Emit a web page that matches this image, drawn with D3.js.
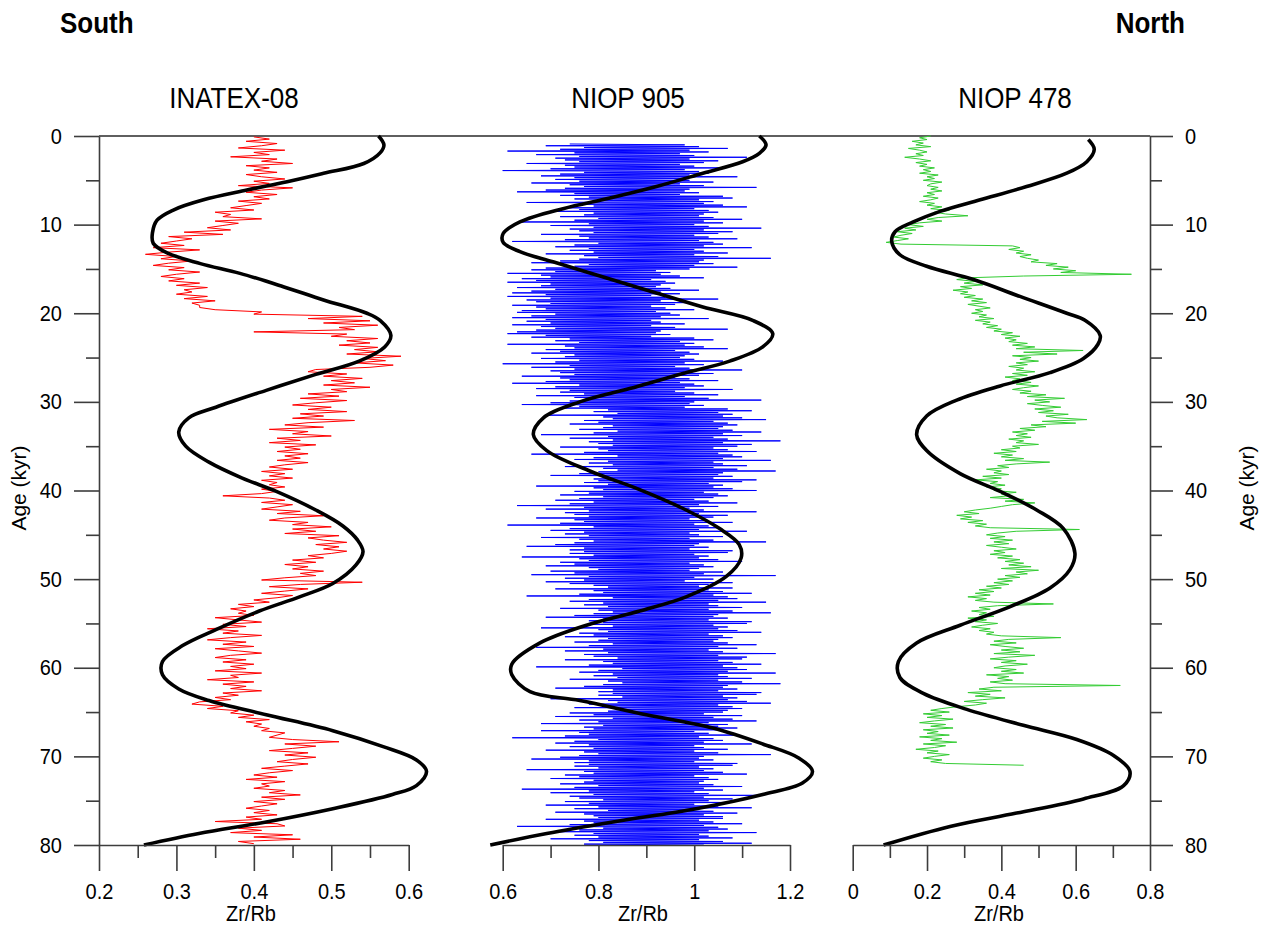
<!DOCTYPE html>
<html>
<head>
<meta charset="utf-8">
<script src="https://cdn.jsdelivr.net/npm/d3@7"></script>
<style>
  body { margin: 0; background: #fff; }
  svg { display: block; }
  text { font-family: "Liberation Sans", Arial, Helvetica, sans-serif; fill: #000; }
  .tall { transform-box: fill-box; transform-origin: center; transform: scaleY(1.1); }
</style>
</head>
<body>
<svg id="chart" width="1265" height="926"></svg>
<script>
// ---- Age axis ----
const ageTicks = [0, 10, 20, 30, 40, 50, 60, 70, 80];
const ageMinorTicks = [5, 15, 25, 35, 45, 55, 65, 75];

// ---- Zr/Rb axis ticks per core ----
const inatexTicks = [0.2, 0.3, 0.4, 0.5, 0.6];
const inatexMinorTicks = [0.25, 0.35, 0.45, 0.55];
const niop905Ticks = [0.6, 0.8, 1, 1.2];
const niop905MinorTicks = [0.7, 0.9, 1.1];
const niop478Ticks = [0, 0.2, 0.4, 0.6, 0.8];
const niop478MinorTicks = [0.1, 0.3, 0.5, 0.7];

const coreNames = ["INATEX-08", "NIOP 905", "NIOP 478"];

// ---- INATEX-08 Zr/Rb record (0.25 kyr sampling from 0.1 kyr) ----
const inatexAge0 = 0.1, inatexDt = 0.25;
const inatexZrRb = [
  0.40, 0.42, 0.39, 0.43, 0.41, 0.38, 0.44, 0.40, 0.42, 0.37, 0.43, 0.41, 0.45, 0.39, 0.42, 0.40,
  0.43, 0.39, 0.41, 0.44, 0.40, 0.42, 0.38, 0.45, 0.41, 0.39, 0.43, 0.40, 0.42, 0.38, 0.41, 0.39,
  0.37, 0.40, 0.35, 0.37, 0.36, 0.41, 0.35, 0.38, 0.36, 0.34, 0.37, 0.31, 0.36, 0.29, 0.32, 0.30,
  0.28, 0.31, 0.27, 0.33, 0.29, 0.26, 0.30, 0.28, 0.32, 0.29, 0.27, 0.31, 0.29, 0.33, 0.30, 0.28,
  0.31, 0.29, 0.33, 0.30, 0.34, 0.31, 0.32, 0.30, 0.34, 0.31, 0.35, 0.32, 0.33, 0.33, 0.35, 0.41,
  0.40, 0.54, 0.47, 0.55, 0.49, 0.56, 0.51, 0.53, 0.40, 0.52, 0.50, 0.56, 0.52, 0.55, 0.51, 0.56,
  0.53, 0.56, 0.52, 0.59, 0.54, 0.57, 0.53, 0.58, 0.55, 0.48, 0.47, 0.52, 0.49, 0.54, 0.50, 0.53,
  0.49, 0.55, 0.50, 0.52, 0.47, 0.51, 0.46, 0.52, 0.48, 0.45, 0.50, 0.47, 0.52, 0.46, 0.49, 0.45,
  0.53, 0.47, 0.44, 0.49, 0.42, 0.47, 0.45, 0.50, 0.43, 0.46, 0.42, 0.48, 0.44, 0.46, 0.43, 0.47,
  0.44, 0.46, 0.43, 0.47, 0.44, 0.42, 0.45, 0.41, 0.44, 0.42, 0.45, 0.41, 0.43, 0.42, 0.44, 0.41,
  0.43, 0.41, 0.36, 0.42, 0.44, 0.41, 0.45, 0.43, 0.41, 0.46, 0.43, 0.49, 0.44, 0.42, 0.47, 0.45,
  0.50, 0.45, 0.48, 0.44, 0.51, 0.47, 0.49, 0.52, 0.48, 0.51, 0.49, 0.52, 0.50, 0.47, 0.49, 0.45,
  0.48, 0.44, 0.47, 0.45, 0.49, 0.46, 0.48, 0.44, 0.41, 0.54, 0.46, 0.42, 0.47, 0.44, 0.41, 0.45,
  0.43, 0.40, 0.42, 0.38, 0.40, 0.37, 0.39, 0.38, 0.40, 0.35, 0.38, 0.41, 0.36, 0.39, 0.34, 0.38,
  0.36, 0.41, 0.37, 0.34, 0.39, 0.36, 0.40, 0.35, 0.38, 0.41, 0.37, 0.35, 0.39, 0.36, 0.40, 0.37,
  0.39, 0.35, 0.41, 0.37, 0.38, 0.34, 0.40, 0.36, 0.39, 0.37, 0.41, 0.36, 0.38, 0.35, 0.37, 0.33,
  0.32, 0.36, 0.34, 0.38, 0.37, 0.40, 0.38, 0.42, 0.39, 0.41, 0.40, 0.42, 0.41, 0.44, 0.43, 0.42,
  0.45, 0.51, 0.44, 0.48, 0.45, 0.42, 0.47, 0.44, 0.48, 0.45, 0.43, 0.47, 0.44, 0.41, 0.45, 0.42,
  0.40, 0.43, 0.39, 0.44, 0.41, 0.42, 0.40, 0.44, 0.42, 0.46, 0.41, 0.44, 0.40, 0.43, 0.41, 0.39,
  0.42, 0.40, 0.43, 0.39, 0.41, 0.35, 0.43, 0.44, 0.38, 0.41, 0.37, 0.45, 0.40, 0.46, 0.38, 0.40
];

// ---- NIOP 905 Zr/Rb record (0.1 kyr sampling from 0.9 kyr) ----
const niop905Age0 = 0.9, niop905Dt = 0.1;
const niop905ZrRb = [
  0.74, 0.98, 0.69, 1.01, 0.77, 1.07, 0.72, 0.99, 0.61, 1.03, 0.75, 0.97, 0.67, 1.00, 0.76, 1.11, 0.71, 0.99, 0.73, 1.05,
  0.76, 1.02, 0.65, 0.97, 0.73, 1.00, 0.75, 1.06, 0.70, 0.98, 0.60, 1.01, 0.77, 1.03, 0.72, 0.99, 0.68, 1.09, 0.75, 0.97,
  0.71, 0.99, 0.76, 1.04, 0.66, 0.97, 0.74, 1.02, 0.77, 1.13, 0.73, 0.99, 0.69, 0.98, 0.63, 1.01, 0.75, 0.97, 0.72, 1.06,
  0.78, 1.08, 0.75, 1.01, 0.80, 1.04, 0.65, 1.02, 0.77, 1.06, 0.79, 1.11, 0.73, 1.00, 0.76, 1.03, 0.70, 1.05, 0.79, 1.02,
  0.77, 1.01, 0.72, 1.04, 0.80, 1.10, 0.75, 1.02, 0.64, 1.06, 0.78, 1.00, 0.70, 1.03, 0.79, 1.14, 0.74, 1.02, 0.76, 1.08,
  0.79, 1.05, 0.68, 1.00, 0.76, 1.03, 0.78, 1.09, 0.73, 1.01, 0.62, 1.04, 0.80, 1.06, 0.75, 1.02, 0.71, 1.12, 0.78, 1.00,
  0.74, 1.02, 0.79, 1.07, 0.69, 1.00, 0.77, 1.05, 0.80, 1.16, 0.76, 1.02, 0.72, 1.01, 0.66, 1.04, 0.78, 1.00, 0.75, 1.09,
  0.69, 0.99, 0.66, 0.92, 0.71, 0.95, 0.61, 0.93, 0.68, 0.97, 0.70, 1.02, 0.64, 0.91, 0.67, 0.94, 0.61, 0.96, 0.70, 0.93,
  0.68, 0.92, 0.63, 0.95, 0.71, 1.01, 0.66, 0.93, 0.62, 0.97, 0.69, 0.91, 0.61, 0.94, 0.70, 1.05, 0.65, 0.93, 0.67, 0.99,
  0.70, 0.96, 0.62, 0.91, 0.67, 0.94, 0.69, 1.00, 0.64, 0.92, 0.63, 0.95, 0.71, 0.97, 0.66, 0.93, 0.62, 1.03, 0.69, 0.91,
  0.65, 0.93, 0.70, 0.98, 0.62, 0.91, 0.68, 0.96, 0.71, 1.07, 0.67, 0.93, 0.63, 0.92, 0.61, 0.95, 0.69, 0.91, 0.66, 1.00,
  0.74, 1.04, 0.71, 0.97, 0.76, 1.00, 0.61, 0.98, 0.73, 1.02, 0.75, 1.07, 0.69, 0.96, 0.72, 0.99, 0.66, 1.01, 0.75, 0.98,
  0.73, 0.97, 0.68, 1.00, 0.76, 1.06, 0.71, 0.98, 0.60, 1.02, 0.74, 0.96, 0.66, 0.99, 0.75, 1.10, 0.70, 0.98, 0.72, 1.04,
  0.75, 1.01, 0.64, 0.96, 0.72, 0.99, 0.74, 1.05, 0.69, 0.97, 0.62, 1.00, 0.76, 1.02, 0.71, 0.98, 0.67, 1.08, 0.74, 0.96,
  0.72, 1.00, 0.77, 1.05, 0.67, 0.98, 0.75, 1.03, 0.78, 1.14, 0.74, 1.00, 0.70, 0.99, 0.64, 1.02, 0.76, 0.98, 0.73, 1.07,
  0.82, 1.12, 0.79, 1.05, 0.84, 1.08, 0.69, 1.06, 0.81, 1.10, 0.83, 1.15, 0.77, 1.04, 0.80, 1.07, 0.74, 1.09, 0.83, 1.06,
  0.81, 1.05, 0.76, 1.08, 0.84, 1.14, 0.79, 1.06, 0.68, 1.10, 0.82, 1.04, 0.74, 1.07, 0.83, 1.18, 0.78, 1.06, 0.80, 1.12,
  0.83, 1.09, 0.72, 1.04, 0.80, 1.07, 0.82, 1.13, 0.77, 1.05, 0.66, 1.08, 0.84, 1.10, 0.79, 1.06, 0.75, 1.16, 0.82, 1.04,
  0.78, 1.06, 0.83, 1.11, 0.73, 1.04, 0.81, 1.09, 0.84, 1.17, 0.80, 1.06, 0.76, 1.05, 0.70, 1.08, 0.82, 1.04, 0.79, 1.13,
  0.80, 1.10, 0.77, 1.03, 0.82, 1.06, 0.67, 1.04, 0.79, 1.08, 0.81, 1.13, 0.75, 1.02, 0.78, 1.05, 0.72, 1.07, 0.81, 1.04,
  0.76, 1.00, 0.71, 1.03, 0.79, 1.09, 0.74, 1.01, 0.63, 1.05, 0.77, 0.99, 0.69, 1.02, 0.78, 1.13, 0.73, 1.01, 0.75, 1.07,
  0.78, 1.04, 0.67, 0.99, 0.75, 1.02, 0.77, 1.08, 0.72, 1.00, 0.61, 1.03, 0.79, 1.05, 0.74, 1.01, 0.70, 1.11, 0.77, 0.99,
  0.73, 1.01, 0.78, 1.06, 0.68, 0.99, 0.76, 1.04, 0.79, 1.15, 0.75, 1.01, 0.71, 1.00, 0.65, 1.03, 0.77, 0.99, 0.74, 1.08,
  0.77, 1.07, 0.74, 1.00, 0.79, 1.03, 0.64, 1.01, 0.76, 1.05, 0.78, 1.10, 0.72, 0.99, 0.75, 1.02, 0.69, 1.04, 0.78, 1.01,
  0.80, 0.99, 0.70, 1.06, 0.75, 1.02, 0.66, 1.17, 0.78, 1.00, 0.73, 1.04, 0.77, 0.98, 0.69, 1.08, 0.74, 1.03, 0.79, 1.01,
  0.82, 1.08, 0.71, 1.03, 0.79, 1.06, 0.81, 1.12, 0.76, 1.04, 0.65, 1.07, 0.83, 1.09, 0.78, 1.05, 0.74, 1.15, 0.81, 1.03,
  0.77, 1.05, 0.82, 1.10, 0.72, 1.03, 0.80, 1.08, 0.83, 1.16, 0.79, 1.05, 0.75, 1.04, 0.69, 1.07, 0.81, 1.03, 0.78, 1.12,
  0.81, 1.11, 0.78, 1.04, 0.83, 1.07, 0.68, 1.05, 0.80, 1.09, 0.82, 1.14, 0.76, 1.03, 0.79, 1.06, 0.73, 1.08, 0.82, 1.05,
  0.80, 1.04, 0.75, 1.07, 0.83, 1.13, 0.78, 1.05, 0.67, 1.09, 0.81, 1.03, 0.73, 1.06, 0.82, 1.17, 0.77, 1.05, 0.79, 1.11,
  0.84, 1.10, 0.73, 1.05, 0.81, 1.08, 0.83, 1.14, 0.78, 1.06, 0.67, 1.09, 0.85, 1.11, 0.80, 1.07, 0.76, 1.17, 0.83, 1.05,
  0.79, 1.07, 0.84, 1.12, 0.74, 1.05, 0.82, 1.10, 0.85, 1.18, 0.81, 1.07, 0.77, 1.06, 0.71, 1.09, 0.83, 1.05, 0.80, 1.14,
  0.83, 1.13, 0.80, 1.06, 0.85, 1.09, 0.70, 1.07, 0.82, 1.11, 0.84, 1.16, 0.78, 1.05, 0.81, 1.08, 0.75, 1.10, 0.84, 1.07,
  0.82, 1.06, 0.74, 1.02, 0.79, 1.10, 0.71, 1.04, 0.83, 1.08, 0.76, 1.13, 0.80, 1.03, 0.68, 1.07, 0.81, 1.05, 0.77, 1.09,
  0.79, 1.05, 0.68, 1.00, 0.76, 1.03, 0.78, 1.09, 0.73, 1.01, 0.62, 1.04, 0.80, 1.06, 0.75, 1.02, 0.71, 1.12, 0.78, 1.00,
  0.74, 1.02, 0.79, 1.07, 0.69, 1.00, 0.77, 1.05, 0.80, 1.16, 0.76, 1.02, 0.72, 1.01, 0.66, 1.04, 0.78, 1.00, 0.75, 1.09,
  0.78, 1.08, 0.75, 1.01, 0.80, 1.04, 0.65, 1.02, 0.77, 1.06, 0.79, 1.11, 0.73, 1.00, 0.76, 1.03, 0.70, 1.05, 0.79, 1.02,
  0.77, 1.01, 0.72, 1.04, 0.80, 1.10, 0.75, 1.02, 0.64, 1.06, 0.78, 1.00, 0.70, 1.03, 0.79, 1.14, 0.74, 1.02, 0.76, 1.08,
  0.81, 1.03, 0.73, 1.07, 0.78, 1.00, 0.69, 1.05, 0.80, 1.12, 0.75, 1.01, 0.82, 1.04, 0.71, 1.09, 0.77, 1.02, 0.79, 1.06,
  0.80, 1.06, 0.69, 1.01, 0.77, 1.04, 0.79, 1.10, 0.74, 1.02, 0.63, 1.05, 0.81, 1.07, 0.76, 1.03, 0.72, 1.13, 0.79, 1.01,
  0.75, 1.03, 0.80, 1.08, 0.70, 1.01, 0.78, 1.06, 0.81, 1.12, 0.77, 1.02
];

// ---- NIOP 478 Zr/Rb record (0.2 kyr sampling from 0 kyr) ----
const niop478Age0 = 0, niop478Dt = 0.2;
const niop478ZrRb = [
  0.21, 0.18, 0.20, 0.16, 0.19, 0.17, 0.21, 0.15, 0.18, 0.20,
  0.17, 0.19, 0.14, 0.18, 0.21, 0.17, 0.20, 0.18, 0.22, 0.19,
  0.21, 0.18, 0.23, 0.20, 0.22, 0.19, 0.24, 0.21, 0.20, 0.23,
  0.21, 0.24, 0.20, 0.22, 0.19, 0.23, 0.21, 0.18, 0.22, 0.20,
  0.24, 0.21, 0.26, 0.22, 0.25, 0.31, 0.23, 0.20, 0.24, 0.18,
  0.15, 0.19, 0.14, 0.17, 0.12, 0.16, 0.13, 0.11, 0.15, 0.12,
  0.09, 0.13, 0.43, 0.45, 0.42, 0.46, 0.44, 0.48, 0.45, 0.47,
  0.50, 0.48, 0.55, 0.52, 0.58, 0.54, 0.60, 0.56, 0.75, 0.46,
  0.31, 0.28, 0.33, 0.30, 0.35, 0.29, 0.32, 0.27, 0.31, 0.29,
  0.33, 0.30, 0.35, 0.32, 0.36, 0.31, 0.34, 0.37, 0.33, 0.35,
  0.32, 0.36, 0.34, 0.38, 0.33, 0.37, 0.35, 0.39, 0.36, 0.40,
  0.38, 0.43, 0.40, 0.45, 0.41, 0.44, 0.42, 0.47, 0.43, 0.49,
  0.44, 0.62, 0.46, 0.55, 0.43, 0.48, 0.45, 0.50, 0.44, 0.47,
  0.42, 0.46, 0.44, 0.49, 0.43, 0.47, 0.41, 0.45, 0.43, 0.48,
  0.44, 0.50, 0.46, 0.43, 0.48, 0.45, 0.52, 0.47, 0.57, 0.49,
  0.53, 0.47, 0.51, 0.56, 0.49, 0.54, 0.50, 0.58, 0.52, 0.55,
  0.63, 0.51, 0.60, 0.48, 0.52, 0.45, 0.49, 0.43, 0.47, 0.44,
  0.48, 0.42, 0.46, 0.44, 0.50, 0.43, 0.45, 0.40, 0.44, 0.38,
  0.43, 0.40, 0.46, 0.41, 0.53, 0.44, 0.39, 0.42, 0.36, 0.40,
  0.38, 0.42, 0.35, 0.40, 0.33, 0.39, 0.37, 0.41, 0.36, 0.40,
  0.38, 0.44, 0.40, 0.42, 0.37, 0.46, 0.41, 0.49, 0.43, 0.40,
  0.37, 0.33, 0.30, 0.34, 0.28, 0.32, 0.29, 0.35, 0.31, 0.36,
  0.33, 0.37, 0.61, 0.44, 0.39, 0.36, 0.41, 0.37, 0.43, 0.38,
  0.42, 0.36, 0.40, 0.44, 0.38, 0.41, 0.37, 0.43, 0.39, 0.45,
  0.41, 0.46, 0.42, 0.48, 0.40, 0.50, 0.44, 0.47, 0.41, 0.45,
  0.39, 0.43, 0.38, 0.42, 0.36, 0.40, 0.34, 0.38, 0.33, 0.37,
  0.31, 0.36, 0.33, 0.38, 0.54, 0.39, 0.34, 0.37, 0.32, 0.36,
  0.34, 0.38, 0.31, 0.36, 0.33, 0.39, 0.35, 0.32, 0.37, 0.34,
  0.38, 0.36, 0.40, 0.56, 0.42, 0.38, 0.44, 0.37, 0.41, 0.46,
  0.40, 0.45, 0.38, 0.49, 0.42, 0.37, 0.44, 0.40, 0.47, 0.41,
  0.38, 0.44, 0.40, 0.46, 0.36, 0.42, 0.39, 0.43, 0.37, 0.41,
  0.72, 0.38, 0.34, 0.40, 0.31, 0.37, 0.33, 0.41, 0.35, 0.30,
  0.36, 0.33, 0.28, 0.24, 0.21, 0.26, 0.19, 0.24, 0.20, 0.27,
  0.22, 0.18, 0.25, 0.21, 0.27, 0.19, 0.23, 0.20, 0.26, 0.18,
  0.24, 0.21, 0.28, 0.19, 0.25, 0.22, 0.17, 0.23, 0.20, 0.26,
  0.22, 0.19, 0.24, 0.21, 0.25, 0.46
];

// ---- Precession-band reference curves, scaled to each core's Zr/Rb axis ----
const inatexCycleAge = [0, 1.0, 1.9, 3.1, 4.2, 5.15, 6.1, 7.2, 8.35, 9.5, 10.95, 12.1, 13.2, 14.4, 15.5, 17.0, 18.5, 20.0, 20.8, 22.5, 23.8, 25.4, 26.9, 28.7, 30.6, 31.8, 33.4, 35.0, 36.8, 38.6, 40.1, 42.2, 44.0, 45.6, 46.9, 48.4, 50.5, 52.0, 53.6, 55.7, 57.5, 59.3, 60.8, 62.4, 63.7, 65.3, 67.1, 68.9, 70.4, 71.7, 73.3, 74.3, 75.9, 77.4, 78.7, 80];
const inatexCycle = [0.561, 0.568, 0.563, 0.542, 0.490, 0.443, 0.391, 0.335, 0.296, 0.275, 0.269, 0.270, 0.288, 0.331, 0.382, 0.438, 0.490, 0.546, 0.563, 0.577, 0.569, 0.536, 0.480, 0.416, 0.351, 0.316, 0.303, 0.312, 0.342, 0.385, 0.429, 0.480, 0.515, 0.534, 0.541, 0.532, 0.502, 0.459, 0.407, 0.351, 0.308, 0.282, 0.282, 0.303, 0.342, 0.416, 0.502, 0.567, 0.610, 0.623, 0.610, 0.579, 0.502, 0.416, 0.329, 0.258];

const niop905CycleAge = [0, 1.0, 1.95, 2.9, 4.2, 5.7, 7.0, 8.2, 9.7, 11.0, 12.0, 13.05, 14.2, 15.9, 17.6, 19.3, 20.8, 22.3, 23.8, 25.4, 26.9, 28.5, 30.0, 31.8, 33.7, 35.5, 37.8, 39.9, 42.2, 44.3, 46.1, 47.6, 49.7, 52.0, 53.6, 55.2, 57.2, 59.6, 60.8, 62.7, 63.7, 65.3, 66.8, 68.6, 70.2, 71.7, 73.0, 74.3, 75.9, 77.4, 78.7, 80];
const niop905Cycle = [1.136, 1.150, 1.136, 1.101, 1.018, 0.921, 0.824, 0.726, 0.636, 0.601, 0.601, 0.636, 0.705, 0.810, 0.914, 1.018, 1.122, 1.164, 1.143, 1.074, 0.969, 0.865, 0.761, 0.685, 0.664, 0.692, 0.782, 0.886, 0.983, 1.053, 1.094, 1.098, 1.067, 0.983, 0.886, 0.775, 0.678, 0.619, 0.619, 0.657, 0.761, 0.900, 1.039, 1.143, 1.219, 1.247, 1.226, 1.143, 1.004, 0.830, 0.692, 0.574];

const niop478CycleAge = [0.4, 1.5, 2.9, 4.2, 5.7, 7.2, 8.5, 9.7, 10.8, 11.9, 13.4, 14.7, 16.2, 18.1, 20.0, 20.8, 22.5, 23.5, 25.1, 26.7, 28.2, 29.8, 31.6, 33.7, 35.5, 38.1, 40.1, 42.2, 44.3, 47.1, 48.9, 51.0, 53.1, 55.2, 57.2, 59.3, 61.1, 62.9, 64.7, 66.5, 68.1, 69.9, 71.7, 73.3, 74.8, 76.4, 77.9, 80];
const niop478Cycle = [0.634, 0.650, 0.630, 0.576, 0.468, 0.343, 0.235, 0.163, 0.114, 0.105, 0.127, 0.199, 0.325, 0.450, 0.576, 0.625, 0.666, 0.660, 0.621, 0.531, 0.397, 0.280, 0.199, 0.172, 0.199, 0.289, 0.397, 0.495, 0.567, 0.598, 0.585, 0.531, 0.424, 0.289, 0.172, 0.123, 0.127, 0.190, 0.307, 0.459, 0.603, 0.702, 0.746, 0.729, 0.621, 0.441, 0.262, 0.083];

// ---- Layout ----
const plotTop = 136, plotBottom = 845;
const leftAxisX = 99, rightAxisX = 1150;
const axisColor = "#3d3d3d";

const svg = d3.select("#chart");
const y = d3.scaleLinear().domain([0, 80]).range([plotTop, plotBottom]);

const panels = [
  { name: coreNames[0], titleX: 234, xDomain: [0.2, 0.6], xRange: [99, 408.7], ticks: inatexTicks, minor: inatexMinorTicks,
    color: "#ff0000", age0: inatexAge0, dt: inatexDt, values: inatexZrRb, cycleAge: inatexCycleAge, cycle: inatexCycle, unitX: 251 },
  { name: coreNames[1], titleX: 628, xDomain: [0.6, 1.2], xRange: [502.7, 790], ticks: niop905Ticks, minor: niop905MinorTicks,
    color: "#0000ff", age0: niop905Age0, dt: niop905Dt, values: niop905ZrRb, cycleAge: niop905CycleAge, cycle: niop905Cycle, unitX: 643 },
  { name: coreNames[2], titleX: 1015, xDomain: [0, 0.8], xRange: [852.7, 1150], ticks: niop478Ticks, minor: niop478MinorTicks,
    color: "#33cc33", age0: niop478Age0, dt: niop478Dt, values: niop478ZrRb, cycleAge: niop478CycleAge, cycle: niop478Cycle, unitX: 999 }
];

function styleAxis(g) {
  g.selectAll("path.domain").attr("stroke", axisColor).attr("stroke-width", 1.6);
  g.selectAll(".tick line").attr("stroke", axisColor).attr("stroke-width", 1.6);
  g.selectAll(".tick text").attr("fill", "#000").attr("class", "tall")
    .style("font-family", '"Liberation Sans", Arial, sans-serif');
}

// Top frame line
svg.append("line")
  .attr("x1", leftAxisX).attr("x2", rightAxisX)
  .attr("y1", plotTop).attr("y2", plotTop)
  .attr("stroke", "#5f5f5f").attr("stroke-width", 2);

// Left age axis
const leftMajor = svg.append("g").attr("transform", `translate(${leftAxisX},0)`)
  .call(d3.axisLeft(y).tickValues(ageTicks).tickSize(25).tickSizeOuter(0).tickPadding(12).tickFormat(d3.format("d")));
leftMajor.selectAll(".tick text").attr("font-size", 20);
styleAxis(leftMajor);
const leftMinor = svg.append("g").attr("transform", `translate(${leftAxisX},0)`)
  .call(d3.axisLeft(y).tickValues(ageMinorTicks).tickSize(13).tickFormat(""));
leftMinor.select("path.domain").remove();
styleAxis(leftMinor);

// Right age axis
const rightMajor = svg.append("g").attr("transform", `translate(${rightAxisX},0)`)
  .call(d3.axisRight(y).tickValues(ageTicks).tickSize(23).tickSizeOuter(0).tickPadding(12).tickFormat(d3.format("d")));
rightMajor.selectAll(".tick text").attr("font-size", 20);
styleAxis(rightMajor);
const rightMinor = svg.append("g").attr("transform", `translate(${rightAxisX},0)`)
  .call(d3.axisRight(y).tickValues(ageMinorTicks).tickSize(12).tickFormat(""));
rightMinor.select("path.domain").remove();
styleAxis(rightMinor);

// Age axis titles
svg.append("text")
  .attr("transform", "translate(26,488) rotate(-90)")
  .attr("text-anchor", "middle").attr("font-size", 21).text("Age (kyr)");
svg.append("text")
  .attr("transform", "translate(1254,488) rotate(-90)")
  .attr("text-anchor", "middle").attr("font-size", 21).text("Age (kyr)");

// Region labels
svg.append("text").attr("class", "tall").attr("x", 60).attr("y", 32).attr("font-size", 26).attr("font-weight", "bold").text("South");
svg.append("text").attr("class", "tall").attr("x", 1185).attr("y", 32).attr("font-size", 26).attr("font-weight", "bold")
  .attr("text-anchor", "end").text("North");

panels.forEach(p => {
  const x = d3.scaleLinear().domain(p.xDomain).range(p.xRange);

  // Core record
  const record = p.values.map((v, i) => ({ age: p.age0 + i * p.dt, v }));
  svg.append("path")
    .datum(record)
    .attr("fill", "none")
    .attr("stroke", p.color)
    .attr("stroke-width", 1)
    .attr("d", d3.line().x(d => x(d.v)).y(d => y(d.age)));

  // Reference cycle curve
  const cyc = p.cycleAge.map((a, i) => ({ age: a, v: p.cycle[i] }));
  svg.append("path")
    .datum(cyc)
    .attr("fill", "none")
    .attr("stroke", "#000")
    .attr("stroke-width", 3.6)
    .attr("stroke-linejoin", "round")
    .attr("d", d3.line().curve(d3.curveCatmullRom.alpha(0.5)).x(d => x(d.v)).y(d => y(d.age)));

  // Bottom Zr/Rb axis
  const gMajor = svg.append("g").attr("transform", `translate(0,${plotBottom})`)
    .call(d3.axisBottom(x).tickValues(p.ticks).tickSize(26).tickSizeOuter(0).tickPadding(13).tickFormat(d => String(d)));
  gMajor.selectAll(".tick text").attr("font-size", 20);
  styleAxis(gMajor);
  const gMinor = svg.append("g").attr("transform", `translate(0,${plotBottom})`)
    .call(d3.axisBottom(x).tickValues(p.minor).tickSize(13).tickFormat(""));
  gMinor.select("path.domain").remove();
  styleAxis(gMinor);

  svg.append("text").attr("class", "tall").attr("x", p.unitX).attr("y", 920)
    .attr("text-anchor", "middle").attr("font-size", 20).text("Zr/Rb");

  svg.append("text").attr("class", "tall").attr("x", p.titleX).attr("y", 107)
    .attr("text-anchor", "middle").attr("font-size", 26).text(p.name);
});
</script>
</body>
</html>
